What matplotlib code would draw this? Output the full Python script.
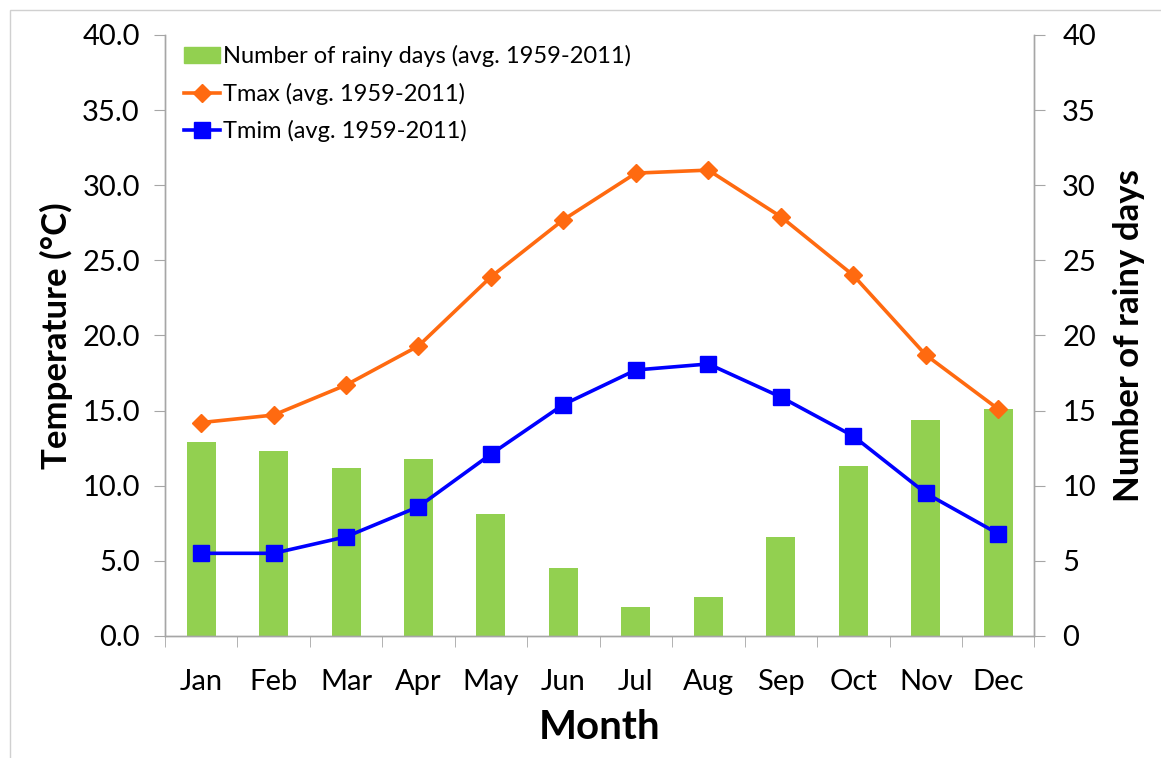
import matplotlib.pyplot as plt
import matplotlib.patches as mpatches
import numpy as np

plt.rcParams['font.family'] = ['Lato', 'DejaVu Sans']

months = ["Jan", "Feb", "Mar", "Apr", "May", "Jun", "Jul", "Aug", "Sep", "Oct", "Nov", "Dec"]
rainy_days = [12.9, 12.3, 11.2, 11.8, 8.1, 4.5, 1.9, 2.6, 6.6, 11.3, 14.4, 15.1]
tmax = [14.2, 14.7, 16.7, 19.3, 23.9, 27.7, 30.8, 31.0, 27.9, 24.0, 18.7, 15.1]
tmin = [5.5, 5.5, 6.6, 8.6, 12.1, 15.4, 17.7, 18.1, 15.9, 13.3, 9.5, 6.8]

AXIS_GRAY = "#A6A6A6"

fig = plt.figure(figsize=(11.61, 7.58), dpi=100)
ax = fig.add_axes([0.142, 0.161, 0.749, 0.793])
ax2 = ax.twinx()

x = np.arange(len(months))

# bars on the secondary axis, lines on the primary one
ax2.bar(x, rainy_days, width=0.4, color="#92D050", zorder=1)
ax.set_zorder(ax2.get_zorder() + 1)
ax.patch.set_visible(False)

ax.plot(x, tmax, color="#FF6A10", lw=2.6, marker="D", markersize=9)
ax.plot(x, tmin, color="#0000FF", lw=2.6, marker="s", markersize=11)

for a in (ax, ax2):
    a.set_xlim(-0.5, 11.5)
    a.set_ylim(0, 40)
    a.spines["top"].set_visible(False)
    for s in ("left", "right", "bottom"):
        a.spines[s].set_color(AXIS_GRAY)
        a.spines[s].set_linewidth(1.0)

ax.set_yticks(np.arange(0, 41, 5))
ax.set_yticklabels([f"{v:.1f}" for v in np.arange(0, 41, 5)])
ax2.set_yticks(np.arange(0, 41, 5))

ax.set_xticks(x)
ax.set_xticklabels(months)
ax.set_xticks(np.arange(-0.5, 12, 1), minor=True)
ax.tick_params(axis="x", which="major", length=0, labelsize=21, pad=24)
ax.tick_params(axis="x", which="minor", length=8, color=AXIS_GRAY, direction="out")
ax.tick_params(axis="y", length=8, color=AXIS_GRAY, labelsize=21, pad=10)
ax2.tick_params(axis="y", length=8, color=AXIS_GRAY, labelsize=21, pad=12)

ax.set_xlabel("Month", fontsize=29, fontweight="bold", labelpad=10)
ax.set_ylabel("Temperature (°C)", fontsize=25, fontweight="bold", labelpad=7)
ax2.set_ylabel("Number of rainy days", fontsize=25, fontweight="bold", labelpad=12)

handles = [
    mpatches.Patch(color="#92D050"),
    plt.Line2D([], [], color="#FF6A10", lw=2.6, marker="D", markersize=9),
    plt.Line2D([], [], color="#0000FF", lw=2.6, marker="s", markersize=11),
]
labels = ["Number of rainy days (avg. 1959-2011)", "Tmax (avg. 1959-2011)", "Tmim (avg. 1959-2011)"]
ax.legend(handles, labels, loc="upper left", bbox_to_anchor=(-0.002, 1.018), frameon=False,
          fontsize=17, handlelength=1.5, handletextpad=0.15, labelspacing=0.65)

# light frame around the chart
fig.patches.append(mpatches.Rectangle((0.009, -0.01), 1.1, 0.997, transform=fig.transFigure,
                                      fill=False, edgecolor="#D0D0D0", lw=1.0))

fig.savefig("out.png", dpi=100)
